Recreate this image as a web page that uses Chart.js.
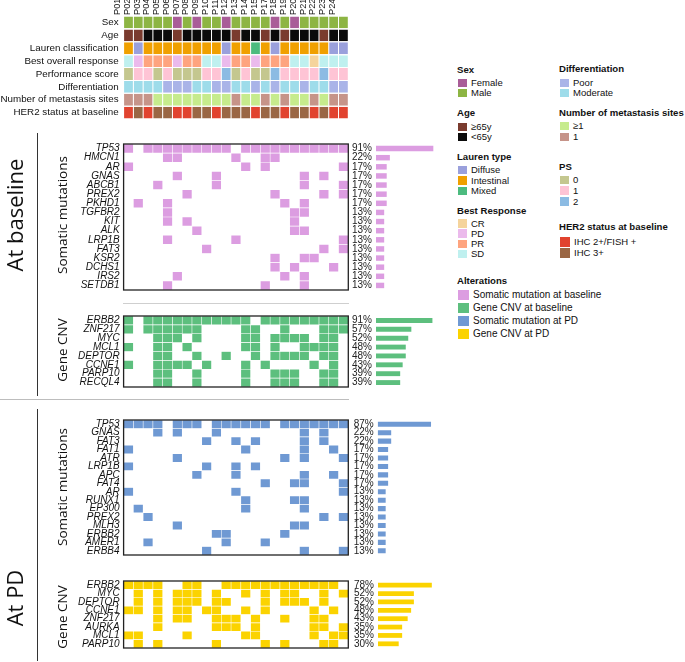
<!DOCTYPE html>
<html>
<head>
<meta charset="utf-8">
<script src="https://cdn.jsdelivr.net/npm/chart.js@4.4.0/dist/chart.umd.min.js"></script>
<style>
  body { margin:0; background:#fff; width:685px; height:662px; overflow:hidden; position:relative;
         font-family:"Liberation Sans", Arial, sans-serif; color:#111; }
  canvas { position:absolute; }
  .rot { position:absolute; white-space:nowrap; transform:translate(-50%,-50%) rotate(-90deg); font-family:"Open Sans", sans-serif; color:#111; }
  .line { position:absolute; }
  .lg { position:absolute; white-space:nowrap; font-size:9.5px; line-height:10px; }
  .lg.h { font-weight:bold; font-size:9.6px; }
  .sw { position:absolute; }
</style>
</head>
<body>
<canvas id="head" width="350" height="130" style="left:0;top:0"></canvas>
<canvas id="bmut" width="350" height="166" style="left:0;top:134px"></canvas>
<canvas id="bmutF" width="90" height="166" style="left:349px;top:134px"></canvas>
<canvas id="bcnv" width="350" height="91" style="left:0;top:306px"></canvas>
<canvas id="bcnvF" width="89" height="91" style="left:349px;top:306px"></canvas>
<canvas id="pmut" width="350" height="155" style="left:0;top:410px"></canvas>
<canvas id="pmutF" width="90" height="155" style="left:349px;top:410px"></canvas>
<canvas id="pcnv" width="350" height="87" style="left:0;top:571px"></canvas>
<canvas id="pcnvF" width="98" height="87" style="left:349px;top:571px"></canvas>

<div class="line" style="left:123px;top:303px;width:226px;height:1px;background:#cfcfcf"></div>
<div class="line" style="left:0;top:399px;width:349px;height:1px;background:#bdbdbd"></div>
<div class="line" style="left:37px;top:133px;width:1px;height:263px;background:#333"></div>
<div class="line" style="left:37px;top:409px;width:1px;height:252px;background:#333"></div>

<div class="rot" style="left:14px;top:215px;font-size:22px">At baseline</div>
<div class="rot" style="left:62px;top:215px;font-size:13.5px">Somatic mutations</div>
<div class="rot" style="left:62px;top:350px;font-size:13.5px">Gene CNV</div>
<div class="rot" style="left:14px;top:598px;font-size:22px">At PD</div>
<div class="rot" style="left:62px;top:487px;font-size:13.5px">Somatic mutations</div>
<div class="rot" style="left:62px;top:617px;font-size:13.5px">Gene CNV</div>

<div id="legend"></div>

<script>
// patients (P16 not in cohort)
const patients = ['P01','P02','P03','P04','P05','P06','P07','P08','P09','P10','P11','P12','P13','P14','P15','P17','P18','P19','P20','P21','P22','P23','P24'];

// clinical tracks
const trackNames = ['Sex','Age','Lauren classification','Best overall response','Performance score','Differentiation','Number of metastasis sites','HER2 status at baseline'];
const sex = ['M','M','M','M','M','F','M','F','M','M','F','M','M','M','M','F','M','F','M','M','M','M','M'];
const age = ['O','O','Y','Y','Y','O','Y','Y','Y','Y','Y','O','Y','Y','O','Y','O','Y','Y','Y','O','Y','Y'];
const lauren = ['I','D','I','I','I','I','I','I','I','I','D','I','I','M','I','D','I','I','I','I','I','D','D'];
const bestResponse = ['SD','PD','PR','PR','PR','PD','PR','PR','SD','SD','PD','PR','PR','PD','PR','PR','PR','SD','SD','CR','SD','SD','SD'];
const perfScore = ['0','1','1','0','1','0','0','0','1','1','2','0','1','0','0','2','1','1','1','1','2','1','1'];
const differentiation = ['Mod','Mod','Mod','Mod','Poor','Poor','Poor','Mod','Mod','Poor','Poor','Mod','Mod','Poor','Mod','Poor','Mod','Mod','Poor','Mod','Mod','Poor','Poor'];
const metSites = ['1','1','1','ge1','ge1','ge1','ge1','ge1','ge1','ge1','ge1','1','ge1','ge1','1','ge1','1','ge1','ge1','1','ge1','1','1'];
const her2 = ['FISH','IHC3','FISH','IHC3','IHC3','FISH','FISH','IHC3','IHC3','FISH','IHC3','IHC3','IHC3','FISH','IHC3','IHC3','FISH','IHC3','IHC3','FISH','IHC3','FISH','FISH'];

// somatic mutations at baseline (patient indexes with alteration)
const baseMutGenes = ['TP53','HMCN1','AR','GNAS','ABCB1','PREX2','PKHD1','TGFBR2','KIT','ALK','LRP1B','FAT3','KSR2','DCHS1','IRS2','SETDB1'];
const baseMutHits = [
  [0,2,3,4,5,6,7,8,9,10,12,13,14,15,16,17,18,19,20,21,22],
  [4,5,11,14,15], [0,12,14,22], [5,9,18,20], [3,9,18,22], [6,15,20,22], [1,4,16,18],
  [4,17,18], [4,6,17], [7,17,18], [4,11,22], [8,20,22], [15,18,19], [15,17,21], [5,16,18], [4,14,18]
];
const baseMutPct = [91,22,17,17,17,17,17,13,13,13,13,13,13,13,13,13];

// gene CNV at baseline
const baseCnvGenes = ['ERBB2','ZNF217','MYC','MCL1','DEPTOR','CCNE1','PARP10','RECQL4'];
const baseCnvHits = [
  [0,2,3,4,5,6,7,8,9,10,11,12,14,15,16,17,18,19,20,21,22],
  [0,2,3,4,5,6,7,12,13,16,20,21,22],
  [3,4,5,7,12,13,15,16,17,18,20,21],
  [0,3,4,6,12,13,15,18,19,20,21],
  [3,4,7,10,13,15,16,17,18,20,21],
  [0,3,4,5,6,8,12,14,19,21],
  [3,4,7,12,15,16,17,20,21],
  [3,4,7,12,15,16,17,20,21]
];
const baseCnvPct = [91,57,52,48,48,43,39,39];

// somatic mutations at PD
const pdMutGenes = ['TP53','GNAS','FAT3','FAT1','ATR','LRP1B','APC','FAT4','AR','RUNX1','EP300','PREX2','MLH3','ERBB2','AMER1','ERBB4'];
const pdMutHits = [
  [0,1,2,3,5,6,7,9,10,11,12,13,14,16,17,18,19,20,21,22],
  [3,5,9,18,20], [8,11,13,18,20], [0,12,18,21], [5,16,18,22], [0,8,11,13], [7,11,18,21], [14,17,18,22],
  [0,11,22], [12,17,18], [1,12,18], [2,20,22], [5,17,18], [9,10,16], [2,10,14], [8,18,22]
];
const pdMutPct = [87,22,22,17,17,17,17,17,13,13,13,13,13,13,13,13];

// gene CNV at PD
const pdCnvGenes = ['ERBB2','MYC','DEPTOR','CCNE1','ZNF217','AURKA','MCL1','PARP10'];
const pdCnvHits = [
  [0,1,2,3,6,7,10,11,12,13,14,15,16,17,18,19,20,21],
  [1,3,5,6,7,9,12,14,16,17,20,22],
  [1,3,5,6,7,9,10,14,16,17,18,20],
  [0,1,3,5,6,8,9,12,14,19,21],
  [3,5,6,9,10,11,13,16,19,20],
  [3,9,10,11,13,19,20,22],
  [0,1,6,12,13,19,21,22],
  [1,3,9,14,16,20,21]
];
const pdCnvPct = [78,52,52,48,43,35,35,30];

// colours
const palettes = [
  {F:'#a95d98', M:'#8db543'},
  {O:'#7a3b2e', Y:'#0b0b0b'},
  {D:'#9aa0dc', I:'#f0a000', M:'#4cbb7f'},
  {CR:'#f5d49c', PD:'#ebbaec', PR:'#fea47f', SD:'#bff0ef'},
  {'0':'#c4c78f', '1':'#fec4d5', '2':'#8cbbe3'},
  {Poor:'#aab4e8', Mod:'#9edcea'},
  {ge1:'#c6eb8d', '1':'#c69489'},
  {FISH:'#e1432f', IHC3:'#9a6644'}
];
const C_BMUT = '#dc9de1', C_BCNV = '#5dbf7e', C_PMUT = '#6f99d3', C_PCNV = '#fbd300';

Chart.defaults.font.family = '"Liberation Sans", Arial, sans-serif';
Chart.defaults.color = '#111';

const frame = {
  id: 'frame',
  afterDatasetsDraw(chart) {
    const a = chart.chartArea, c = chart.ctx;
    c.save();
    c.strokeStyle = '#222';
    c.lineWidth = 1.3;
    c.strokeRect(a.left, a.top, a.right - a.left, a.bottom - a.top);
    c.restore();
  }
};

const common = { indexAxis:'y', responsive:false, animation:false, events:[],
  plugins:{ legend:{display:false}, tooltip:{enabled:false} } };
const noGrid = { display:false, drawTicks:false };

// clinical header
const tracks = [sex, age, lauren, bestResponse, perfScore, differentiation, metSites, her2];
const headCells = [];
tracks.forEach((vals, r) => vals.forEach((v, k) => headCells.push({x:[k, k + 1], y:trackNames[r], code:v, r:r})));

new Chart(document.getElementById('head'), {
  type:'bar',
  data:{ labels:trackNames, datasets:[{ data:headCells,
    backgroundColor: ctx => ctx.raw ? palettes[ctx.raw.r][ctx.raw.code] : '#fff',
    borderColor:'rgba(255,255,255,0.55)', borderWidth:{left:0.5, right:0.5, top:0, bottom:0}, borderSkipped:false,
    barPercentage:1, categoryPercentage:0.92 }] },
  options:Object.assign({}, common, {
    layout:{ padding:{ top:0, bottom:1.5, left:0, right:1.7 } },
    scales:{
      x:{ type:'linear', position:'top', min:0, max:23,
          afterBuildTicks: s => { s.ticks = patients.map((p, i) => ({ value:i + 0.5 })); },
          ticks:{ autoSkip:false, minRotation:90, maxRotation:90, padding:1, font:{size:9.2},
                  callback: v => patients[Math.floor(v)] },
          grid:noGrid, border:{display:false},
          afterFit: s => { s.height = 16; } },
      y:{ grid:noGrid, border:{display:false},
          ticks:{ font:{size:9.8}, padding:5, autoSkip:false },
          afterFit: s => { s.width = 123.6; } }
    }
  })
});

function cellsFrom(genes, hits) {
  const out = [];
  genes.forEach((g, r) => hits[r].forEach(k => out.push({ x:[k, k + 1], y:g })));
  return out;
}

function gridChart(id, genes, hits, color) {
  new Chart(document.getElementById(id), {
    type:'bar',
    data:{ labels:genes, datasets:[{ data:cellsFrom(genes, hits), backgroundColor:color,
      borderColor:'rgba(255,255,255,0.6)', borderWidth:0.6, borderSkipped:false,
      barPercentage:1, categoryPercentage:1 }] },
    options:Object.assign({}, common, {
      layout:{ padding:{ top:1, bottom:1, left:0, right:1.7 } },
      scales:{
        x:{ type:'linear', min:0, max:23, display:false },
        y:{ grid:noGrid, border:{display:false},
            ticks:{ font:{size:10, style:'italic'}, padding:4, autoSkip:false },
            afterFit: s => { s.width = 123.6; } }
      }
    }),
    plugins:[frame]
  });
}

function freqChart(id, genes, pct, color, axisW, thick) {
  new Chart(document.getElementById(id), {
    type:'bar',
    data:{ labels:genes, datasets:[{ data:pct, backgroundColor:color, borderWidth:0,
      barPercentage:thick, categoryPercentage:1 }] },
    options:Object.assign({}, common, {
      layout:{ padding:{ top:1, bottom:1, left:0, right:0 } },
      scales:{
        x:{ type:'linear', min:0, max:100, display:false },
        y:{ grid:noGrid, border:{display:false},
            ticks:{ font:{size:10}, color:'#222', padding:4, autoSkip:false,
                    callback: (v, i) => pct[i] + '%' },
            afterFit: s => { s.width = axisW; } }
      }
    })
  });
}

gridChart('bmut', baseMutGenes, baseMutHits, C_BMUT);
gridChart('bcnv', baseCnvGenes, baseCnvHits, C_BCNV);
gridChart('pmut', pdMutGenes, pdMutHits, C_PMUT);
gridChart('pcnv', pdCnvGenes, pdCnvHits, C_PCNV);
freqChart('bmutF', baseMutGenes, baseMutPct, C_BMUT, 27, 0.6);
freqChart('bcnvF', baseCnvGenes, baseCnvPct, C_BCNV, 27, 0.55);
freqChart('pmutF', pdMutGenes, pdMutPct, C_PMUT, 28.7, 0.6);
freqChart('pcnvF', pdCnvGenes, pdCnvPct, C_PCNV, 29, 0.57);

// legend
const legendGroups = [
  { x:457, y:70, gap:13, pitch:10, sw:9, title:'Sex', items:[['Female',palettes[0].F],['Male',palettes[0].M]] },
  { x:457, y:113, gap:14, pitch:10, sw:9, title:'Age', items:[['≥65y',palettes[1].O],['<65y',palettes[1].Y]] },
  { x:457, y:157, gap:13, pitch:10.5, sw:9, title:'Lauren type', items:[['Diffuse',palettes[2].D],['Intestinal',palettes[2].I],['Mixed',palettes[2].M]] },
  { x:457, y:211, gap:12.5, pitch:10.3, sw:9, title:'Best Response', items:[['CR',palettes[3].CR],['PD',palettes[3].PD],['PR',palettes[3].PR],['SD',palettes[3].SD]] },
  { x:559, y:69, gap:14, pitch:10, sw:9, title:'Differentiation', items:[['Poor',palettes[5].Poor],['Moderate',palettes[5].Mod]] },
  { x:559, y:113, gap:13, pitch:11, sw:9, title:'Number of metastasis sites', items:[['≥1',palettes[6].ge1],['1',palettes[6]['1']]] },
  { x:559, y:167, gap:13, pitch:10.8, sw:9, title:'PS', items:[['0',palettes[4]['0']],['1',palettes[4]['1']],['2',palettes[4]['2']]] },
  { x:559, y:227, gap:15, pitch:11, sw:10, title:'HER2 status at baseline', items:[['IHC 2+/FISH +',palettes[7].FISH],['IHC 3+',palettes[7].IHC3]] },
  { x:457, y:281, gap:14, pitch:13, sw:11, big:true, title:'Alterations',
    items:[['Somatic mutation at baseline',C_BMUT],['Gene CNV at baseline',C_BCNV],['Somatic mutation at PD',C_PMUT],['Gene CNV at PD',C_PCNV]] }
];
const lg = document.getElementById('legend');
legendGroups.forEach(g => {
  const h = document.createElement('div');
  h.className = 'lg h'; h.textContent = g.title;
  h.style.left = g.x + 'px'; h.style.top = (g.y - 5) + 'px';
  lg.appendChild(h);
  g.items.forEach((it, i) => {
    const cy = g.y + g.gap + i * g.pitch;
    const s = document.createElement('div');
    s.className = 'sw'; s.style.background = it[1];
    s.style.left = (g.x + 1) + 'px'; s.style.top = (cy - g.sw / 2) + 'px';
    s.style.width = g.sw + 'px'; s.style.height = (g.sw - 0.5) + 'px';
    lg.appendChild(s);
    const t = document.createElement('div');
    t.className = 'lg'; t.textContent = it[0];
    if (g.big) t.style.fontSize = '10px';
    t.style.left = (g.x + g.sw + 5) + 'px'; t.style.top = (cy - 5) + 'px';
    lg.appendChild(t);
  });
});
</script>
</body>
</html>
